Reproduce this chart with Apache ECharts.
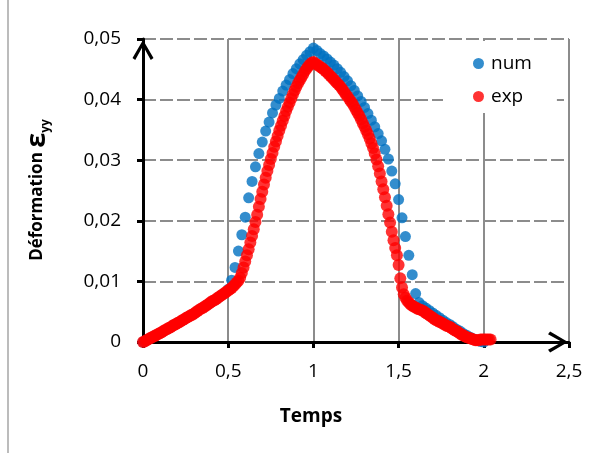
<!DOCTYPE html>
<html>
<head>
<meta charset="utf-8">
<script src="https://cdn.jsdelivr.net/npm/echarts@6/dist/echarts.min.js"></script>
<style>
html,body{margin:0;padding:0;background:#fff;}
#chart{width:606px;height:453px;}
</style>
</head>
<body>
<div id="chart"></div>
<script>
// ---- data ----
var xTicks = [0, 0.5, 1, 1.5, 2, 2.5];
var yTicks = [0, 0.01, 0.02, 0.03, 0.04, 0.05];

// num : sampled every 0.02 s from t = 0
var numT0 = 0, numDt = 0.02;
var numStrain = [
  0, .0003, .0006, .0009, .0012, .0015, .0018, .0021, .0024, .0028,
  .0031, .0034, .0037, .0041, .0044, .0047, .0051, .0055, .0058, .0062,
  .0066, .0069, .0073, .0077, .0081, .0087, .0102, .0123, .0150, .0177,
  .0206, .0238, .0265, .0289, .0311, .0330, .0348, .0363, .0378, .0391,
  .0402, .0414, .0424, .0433, .0443, .0451, .0459, .0466, .0473, .0479,
  .0485, .0481, .0476, .0472, .0467, .0462, .0457, .0451, .0445, .0438,
  .0431, .0423, .0415, .0406, .0397, .0387, .0377, .0366, .0355, .0344,
  .0332, .0318, .0302, .0282, .0261, .0235, .0205, .0174, .0143, .0111,
  .0080, .0065, .0060, .0056, .0052, .0048, .0044, .0040, .0036, .0032,
  .0029, .0025, .0021, .0018, .0014, .0011, .0008, .0005, .0003, .0001,
  0
];

// exp : sampled every 0.01 s from t = 0
var expT0 = 0, expDt = 0.01;
var expStrain = [
  0, .0001, .0003, .0004, .0006, .0007, .0009, .0010, .0012, .0013,
  .0015, .0016, .0018, .0020, .0021, .0023, .0024, .0026, .0028, .0029,
  .0031, .0032, .0034, .0036, .0037, .0039, .0041, .0042, .0044, .0045,
  .0047, .0049, .0051, .0053, .0055, .0056, .0058, .0060, .0062, .0064,
  .0066, .0068, .0069, .0071, .0073, .0075, .0077, .0079, .0081, .0083,
  .0085, .0087, .0089, .0092, .0095, .0098, .0101, .0106, .0114, .0123,
  .0133, .0143, .0153, .0164, .0175, .0186, .0198, .0210, .0223, .0236,
  .0248, .0260, .0271, .0282, .0292, .0302, .0312, .0322, .0331, .0340,
  .0349, .0357, .0365, .0373, .0381, .0388, .0395, .0402, .0409, .0415,
  .0421, .0427, .0432, .0437, .0442, .0447, .0451, .0455, .0458, .0461,
  .0462, .0460, .0458, .0456, .0454, .0452, .0450, .0447, .0445, .0442,
  .0439, .0436, .0433, .0430, .0427, .0424, .0421, .0417, .0413, .0409,
  .0405, .0401, .0397, .0393, .0388, .0383, .0378, .0373, .0367, .0361,
  .0355, .0349, .0343, .0336, .0328, .0320, .0311, .0301, .0290, .0278,
  .0265, .0252, .0239, .0225, .0211, .0197, .0182, .0168, .0155, .0143,
  .0127, .0105, .0090, .0079, .0073, .0068, .0065, .0062, .0060, .0058,
  .0057, .0055, .0054, .0053, .0052, .0050, .0048, .0046, .0044, .0042,
  .0040, .0038, .0036, .0035, .0033, .0032, .0030, .0029, .0027, .0026,
  .0025, .0023, .0021, .0019, .0018, .0016, .0014, .0012, .0011, .0009,
  .0008, .0007, .0006, .0005, .0004, .0003, .0003, .0003, .0004, .0004,
  .0004, .0004, .0004, .0004, .0004
];

var seriesNames = ['num', 'exp'];
var xTitle = 'Temps';
var yTitleMain = 'Déformation ';
var yTitleSym = 'ε';
var yTitleSub = 'yy';

function pairs(t0, dt, vals) {
  return vals.map(function (v, i) { return [+(t0 + i * dt).toFixed(3), v]; });
}
function frNum(v, d) {
  if (v === 0) return '0';
  return (d != null ? v.toFixed(d) : String(v)).replace('.', ',');
}

var FONT = '"Open Sans", "Noto Sans", sans-serif';
var arrowPath = 'path://M10 0 L20 17 L17.4 19 L10 5.6 L2.6 19 L0 17 Z';

var chart = echarts.init(document.getElementById('chart'), null, {renderer: 'canvas'});
chart.setOption({
  backgroundColor: '#fff',
  animation: false,
  grid: {left: 143, right: 37, top: 39, bottom: 111, containLabel: false},
  xAxis: {
    type: 'value', min: xTicks[0], max: xTicks[xTicks.length - 1], interval: 0.5,
    axisLine: {show: true, onZero: false, lineStyle: {color: '#000', width: 3},
      symbol: ['none', arrowPath], symbolSize: [21, 22], symbolOffset: [0, -11]},
    axisTick: {show: true, inside: false, length: 6, lineStyle: {color: '#000', width: 3}},
    axisLabel: {margin: 20, color: '#000', fontSize: 19, fontFamily: FONT,
      formatter: function (v) { return frNum(v); }},
    splitLine: {show: true, lineStyle: {color: '#8c8c8c', width: 2, type: 'solid'}}
  },
  yAxis: {
    type: 'value', min: yTicks[0], max: yTicks[yTicks.length - 1], interval: 0.01,
    axisLine: {show: true, onZero: false, lineStyle: {color: '#000', width: 3},
      symbol: ['none', arrowPath], symbolSize: [21, 22], symbolOffset: [0, -11]},
    axisTick: {show: true, inside: false, length: 6, lineStyle: {color: '#000', width: 3}},
    axisLabel: {margin: 22, color: '#000', fontSize: 19, fontFamily: FONT,
      formatter: function (v) { return frNum(v, 2); }},
    splitLine: {show: true, lineStyle: {color: '#8c8c8c', width: 2, type: [13, 4]}}
  },
  legend: {
    orient: 'vertical', left: 443, top: 41,
    padding: [13, 25, 7, 30], itemGap: 14,
    backgroundColor: '#fff',
    icon: 'circle', itemWidth: 11, itemHeight: 11,
    textStyle: {fontSize: 19, fontFamily: FONT, color: '#000', padding: [0, 0, 0, 2]},
    data: seriesNames
  },
  graphic: [
    {type: 'line', z: 0, shape: {x1: 8, y1: 0, x2: 8, y2: 453},
      style: {stroke: '#a6a6a6', lineWidth: 1.5}},
    {type: 'text', x: 311, y: 417, z: 10,
      style: {text: xTitle, font: 'bold 19px ' + FONT, fill: '#000', align: 'center', verticalAlign: 'middle'}},
    {type: 'text', x: 37, y: 190, rotation: Math.PI / 2, z: 10,
      style: {
        text: '{a|' + yTitleMain + '}{b|' + yTitleSym + '}{c|' + yTitleSub + '}',
        align: 'center', verticalAlign: 'middle',
        rich: {
          a: {fontFamily: FONT, fontWeight: 'bold', fontSize: 17, fill: '#000', lineHeight: 30, verticalAlign: 'middle'},
          b: {fontFamily: FONT, fontWeight: 'bold', fontSize: 27, fill: '#000', lineHeight: 30, verticalAlign: 'middle'},
          c: {fontFamily: FONT, fontWeight: 'bold', fontSize: 12, fill: '#000', lineHeight: 30, verticalAlign: 'bottom'}
        }
      }}
  ],
  series: [
    {name: seriesNames[0], type: 'scatter', clip: false, symbol: 'circle', symbolSize: 11,
      itemStyle: {color: '#0070C0'}, data: pairs(numT0, numDt, numStrain), z: 2},
    {name: seriesNames[1], type: 'scatter', clip: false, symbol: 'circle', symbolSize: 12,
      itemStyle: {color: '#FF0000'}, data: pairs(expT0, expDt, expStrain), z: 3}
  ]
});
</script>
</body>
</html>
